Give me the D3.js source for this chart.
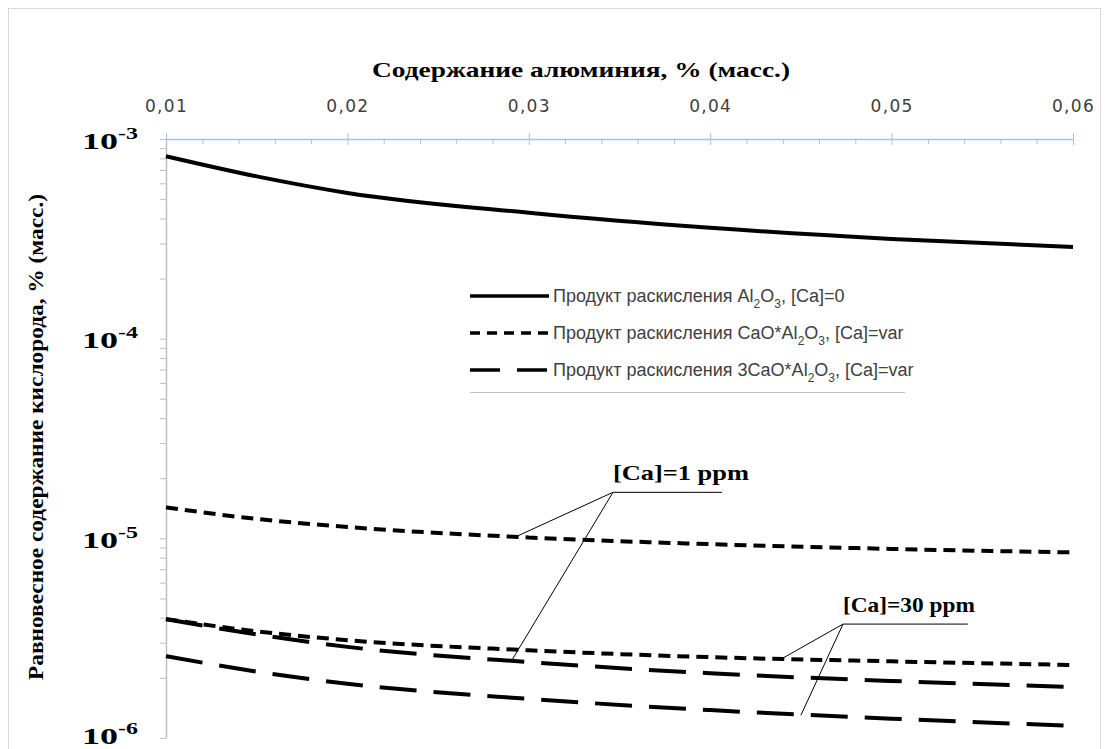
<!DOCTYPE html>
<html><head><meta charset="utf-8">
<script src="https://cdn.jsdelivr.net/npm/d3@7"></script>
<style>
html,body{margin:0;padding:0;background:#fff;}
svg{display:block;}
</style></head>
<body>
<svg id="chart" width="1109" height="749"></svg>
<script>
// ---- data ----
const alContent = [0.01, 0.015, 0.02, 0.03, 0.04, 0.05, 0.06];
const oxAl2O3    = [8.2e-4, 6.5e-4, 5.37e-4, 4.27e-4, 3.59e-4, 3.16e-4, 2.88e-4];
const oxCA_1ppm  = [1.43e-5, 1.25e-5, 1.14e-5, 1.01e-5, 9.35e-6, 8.85e-6, 8.5e-6];
const oxCA_30ppm = [3.94e-6, 3.42e-6, 3.09e-6, 2.75e-6, 2.54e-6, 2.42e-6, 2.32e-6];
const oxC3A_1ppm = [3.94e-6, 3.3e-6, 2.86e-6, 2.40e-6, 2.11e-6, 1.93e-6, 1.80e-6];
const oxC3A_30ppm= [2.57e-6, 2.15e-6, 1.87e-6, 1.57e-6, 1.38e-6, 1.25e-6, 1.15e-6];

const xTicks = [0.01, 0.02, 0.03, 0.04, 0.05, 0.06];
const yTicks = [1e-3, 1e-4, 1e-5, 1e-6];
const yTickExp = ["-3", "-4", "-5", "-6"];

const xTitle = "Содержание алюминия, % (масс.)";
const yTitle = "Равновесное содержание кислорода, % (масс.)";
const legendPrefix = "Продукт раскисления ";

// annotations: label anchor and targets (data units)
const ann1 = {text: "[Ca]=1 ppm", len: 136, anchor: [0.03464, 1.70e-5], end: 0.04065,
              targets: [[0.0294, 1.03e-5], [0.0291, 2.48e-6]]};
const ann30 = {text: "[Ca]=30 ppm", len: 132, anchor: [0.04732, 3.72e-6], end: 0.0542,
              targets: [[0.0440, 2.51e-6], [0.0450, 1.30e-6]]};

// ---- chart ----
const svg = d3.select("#chart");
svg.append("rect").attr("x", 8.5).attr("y", 8.5).attr("width", 1092).attr("height", 760)
  .attr("fill", "none").attr("stroke", "#d9d9d9");

const x = d3.scaleLinear().domain([0.01, 0.06]).range([166, 1073]);
const y = d3.scaleLog().domain([1e-6, 1e-3]).range([738, 139]);

const serif = "Liberation Serif, Times New Roman, serif";

// top x axis
const fmt = d => d3.format(".2f")(d).replace(".", ",");
const xMinor = d3.range(0.012, 0.0601, 0.002).filter(v => Math.abs(v*100 - Math.round(v*100)) > 1e-6);
const gxMinor = svg.append("g").attr("transform", `translate(0,${y(1e-3)})`)
  .call(d3.axisTop(x).tickValues(xMinor).tickSize(-5).tickFormat(""));
gxMinor.select(".domain").remove();
gxMinor.selectAll("line").attr("stroke", "#a9c0e4");
const gx = svg.append("g").attr("transform", `translate(0,${y(1e-3)})`)
  .call(d3.axisTop(x).tickValues(xTicks).tickSizeInner(6).tickSizeOuter(0).tickPadding(21).tickFormat(fmt));
gx.select(".domain").attr("stroke", "#a9c0e4").attr("stroke-width", 1.3);
gx.selectAll(".tick line").attr("stroke", "#a9c0e4").attr("y2", -6).attr("y1", 6);
gx.selectAll(".tick text").attr("font-family", "DejaVu Sans, Verdana, sans-serif")
  .attr("font-size", 17).attr("letter-spacing", 1.3).attr("fill", "#404040");

// left y axis
const yMinor = [];
[1e-6, 1e-5, 1e-4].forEach(d => { for (let k = 2; k <= 9; k++) yMinor.push(d * k); });
const gyMinor = svg.append("g").attr("transform", `translate(${x(0.01)},0)`)
  .call(d3.axisLeft(y).tickValues(yMinor).tickSize(6).tickFormat(""));
gyMinor.select(".domain").remove();
gyMinor.selectAll("line").attr("stroke", "#bfbfbf");
const gy = svg.append("g").attr("transform", `translate(${x(0.01)},0)`)
  .call(d3.axisLeft(y).tickValues(yTicks).tickSizeInner(6).tickSizeOuter(0).tickPadding(22).tickFormat(""));
gy.select(".domain").attr("stroke", "#bfbfbf").attr("stroke-width", 1.5);
gy.selectAll(".tick line").attr("stroke", "#bfbfbf");
gy.selectAll(".tick").each(function(d, i) {
  const t = d3.select(this).select("text")
    .attr("x", -84).attr("dy", i === yTicks.length - 1 ? 5 : 9).attr("text-anchor", "start")
    .attr("font-family", serif).attr("textLength", 56).attr("lengthAdjust", "spacingAndGlyphs")
    .attr("font-weight", "bold").attr("font-size", 24).attr("fill", "#000");
  t.text(null);
  t.append("tspan").text("10");
  t.append("tspan").attr("font-size", 16).attr("dy", -10).text(yTickExp[i]);
});

// titles
svg.append("text").attr("x", 372).attr("y", 77)
  .attr("textLength", 418).attr("lengthAdjust", "spacingAndGlyphs")
  .attr("font-family", serif).attr("font-weight", "bold")
  .attr("font-size", 21).attr("fill", "#000").text(xTitle);
svg.append("text").attr("transform", "translate(43,680) rotate(-90)")
  .attr("textLength", 486).attr("lengthAdjust", "spacingAndGlyphs")
  .attr("font-family", serif).attr("font-weight", "bold")
  .attr("font-size", 20).attr("fill", "#000").text(yTitle);

// series
const line = d3.line().x(d => x(d[0])).y(d => y(d[1])).curve(d3.curveMonotoneX);
const series = [
  {v: oxAl2O3, dash: null},
  {v: oxCA_1ppm, dash: "12,7"},
  {v: oxCA_30ppm, dash: "12,7"},
  {v: oxC3A_1ppm, dash: "37,17"},
  {v: oxC3A_30ppm, dash: "37,17"}
];
series.forEach(s => {
  svg.append("path").datum(alContent.map((a, i) => [a, s.v[i]]))
    .attr("d", line).attr("fill", "none").attr("stroke", "#000")
    .attr("stroke-width", 4).attr("stroke-dasharray", s.dash);
});

// legend
const leg = svg.append("g");
leg.append("line").attr("x1", 470).attr("x2", 905).attr("y1", 392.5).attr("y2", 392.5)
  .attr("stroke", "#bfbfbf");
const legItems = [
  {dash: null, parts: ["Al", "2", "O", "3", ", [Ca]=0"]},
  {dash: "10,7", parts: ["CaO*Al", "2", "O", "3", ", [Ca]=var"]},
  {dash: "30,17", parts: ["3CaO*Al", "2", "O", "3", ", [Ca]=var"]}
];
legItems.forEach((it, i) => {
  const yy = 296 + i * 37;
  leg.append("line").attr("x1", 470).attr("x2", 549).attr("y1", yy).attr("y2", yy)
    .attr("stroke", "#000").attr("stroke-width", 3.5).attr("stroke-dasharray", it.dash);
  const t = leg.append("text").attr("x", 553).attr("y", yy + 6)
    .attr("font-family", "Liberation Sans, Arial, sans-serif").attr("font-size", 18).attr("fill", "#404040");
  t.append("tspan").text(legendPrefix + it.parts[0]);
  t.append("tspan").attr("font-size", 12).attr("dy", 6).text(it.parts[1]);
  t.append("tspan").attr("dy", -6).text(it.parts[2]);
  t.append("tspan").attr("font-size", 12).attr("dy", 6).text(it.parts[3]);
  t.append("tspan").attr("dy", -6).text(it.parts[4]);
});

// annotations
[ann1, ann30].forEach(a => {
  const ax = x(a.anchor[0]), ay = y(a.anchor[1]);
  svg.append("line").attr("x1", ax).attr("y1", ay).attr("x2", x(a.end)).attr("y2", ay)
    .attr("stroke", "#000").attr("stroke-width", 1);
  a.targets.forEach(tg => {
    svg.append("line").attr("x1", ax).attr("y1", ay).attr("x2", x(tg[0])).attr("y2", y(tg[1]))
      .attr("stroke", "#000").attr("stroke-width", 1);
  });
  svg.append("text").attr("x", ax).attr("y", ay - 12)
    .attr("textLength", a.len).attr("lengthAdjust", "spacingAndGlyphs")
    .attr("font-family", serif).attr("font-weight", "bold")
    .attr("font-size", 21).attr("fill", "#000").text(a.text);
});
</script>
</body></html>
